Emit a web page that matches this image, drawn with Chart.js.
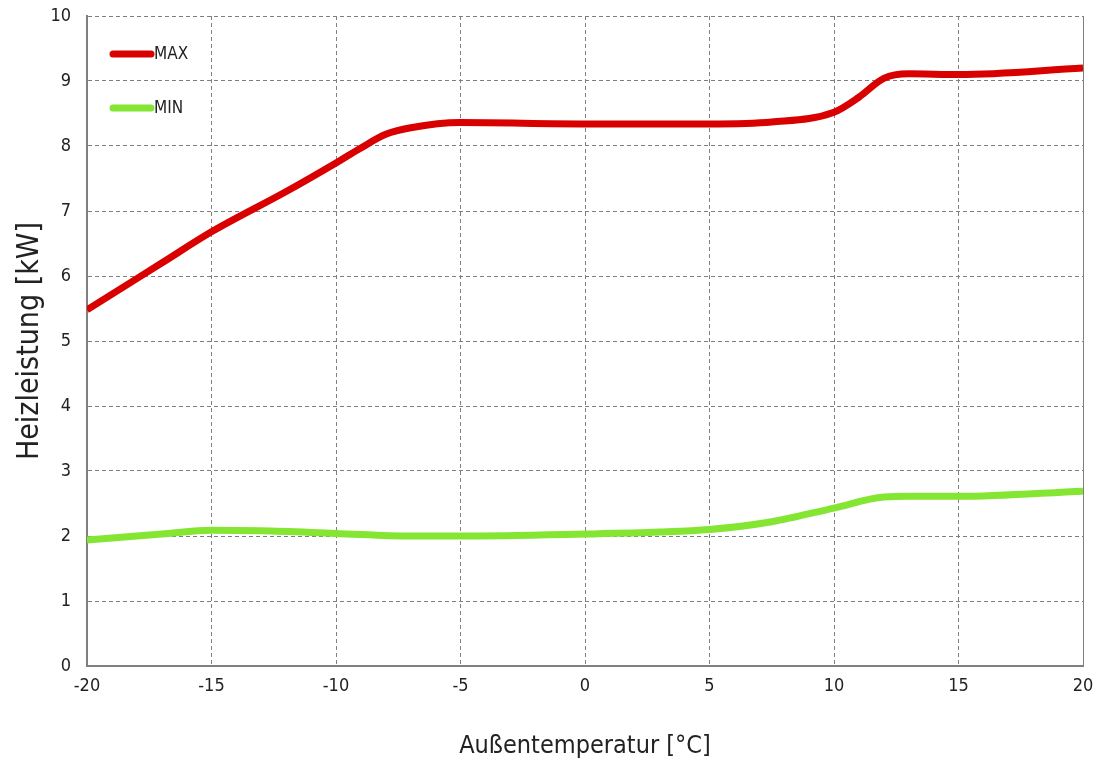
<!DOCTYPE html>
<html>
<head>
<meta charset="utf-8">
<script src="https://cdn.jsdelivr.net/npm/chart.js@4/dist/chart.umd.min.js"></script>
<style>
    html, body { margin: 0; padding: 0; background: #fff; }
    #wrap { width: 1096px; height: 769px; position: relative; }
</style>
</head>
<body>
<div id="wrap"><canvas id="chart"></canvas></div>
<script>
// Außentemperatur [°C] and Heizleistung [kW]
const tempMax = [-20, -17, -15, -12, -10, -9, -8, -7, -5, 0, 5, 7.5, 10, 11, 12, 13, 15, 20];
const powerMax = [5.48, 6.2, 6.68, 7.3, 7.74, 7.97, 8.18, 8.28, 8.36, 8.34, 8.34, 8.37, 8.52, 8.75, 9.04, 9.11, 9.1, 9.2];

const tempMin = [-20, -17, -15, -13, -10, -7, -5, 0, 3, 5, 7.5, 10, 12, 13, 15, 20];
const powerMin = [1.94, 2.03, 2.09, 2.08, 2.04, 2.0, 2.0, 2.03, 2.06, 2.1, 2.22, 2.43, 2.6, 2.61, 2.61, 2.69];

const xTicks = [-20, -15, -10, -5, 0, 5, 10, 15, 20];
const yTicks = [0, 1, 2, 3, 4, 5, 6, 7, 8, 9, 10];

const FONT = "'Liberation Sans Narrow', 'DejaVu Sans Condensed', sans-serif";
const GRID = '#7f7f7f';
const TEXT = '#222222';

function toPoints(xs, ys) {
    return xs.map((x, i) => ({ x: x, y: ys[i] }));
}

// drop the label overhang so layout padding alone sets the plot box
function noOverhang(axis) {
    axis.paddingTop = 0;
    axis.paddingBottom = 0;
    axis.paddingLeft = 0;
    axis.paddingRight = 0;
}

// Legend drawn inside the plot area, top left
const innerLegend = {
    id: 'innerLegend',
    afterDatasetsDraw(chart) {
        const { ctx, chartArea } = chart;
        const rows = [54, 108];
        ctx.save();
        chart.data.datasets.forEach((ds, i) => {
            const y = rows[i];
            const x0 = chartArea.left + 26;
            ctx.strokeStyle = ds.borderColor;
            ctx.lineWidth = 7;
            ctx.lineCap = 'round';
            ctx.beginPath();
            ctx.moveTo(x0, y);
            ctx.lineTo(x0 + 38, y);
            ctx.stroke();
            ctx.fillStyle = TEXT;
            ctx.font = '17px ' + FONT;
            ctx.textBaseline = 'middle';
            ctx.fillText(ds.label, x0 + 41, y + 1);
        });
        ctx.restore();
    }
};

const config = {
    type: 'line',
    data: {
        datasets: [
            {
                label: 'MAX',
                data: toPoints(tempMax, powerMax),
                borderColor: '#d90000',
                borderWidth: 7,
                cubicInterpolationMode: 'monotone',
                pointRadius: 0,
                fill: false,
            },
            {
                label: 'MIN',
                data: toPoints(tempMin, powerMin),
                borderColor: '#84e632',
                borderWidth: 7,
                cubicInterpolationMode: 'monotone',
                pointRadius: 0,
                fill: false,
            }
        ]
    },
    options: {
        responsive: true,
        maintainAspectRatio: false,
        animation: false,
        layout: { padding: { top: 16, right: 13, left: 0, bottom: 0 } },
        plugins: {
            legend: { display: false },
            tooltip: { enabled: false }
        },
        scales: {
            x: {
                type: 'linear',
                min: -20,
                max: 20,
                afterBuildTicks: axis => { axis.ticks = xTicks.map(v => ({ value: v })); },
                afterFit: axis => { axis.height = 103; noOverhang(axis); },
                ticks: { color: TEXT, font: { family: FONT, size: 18 }, padding: 10 },
                grid: { color: GRID, lineWidth: 1, drawTicks: false },
                border: {
                    color: GRID,
                    width: 2,
                    dash: c => (c.tick && c.tick.value === 20 ? [] : [4, 3])
                },
                title: {
                    display: true,
                    text: 'Außentemperatur [°C]',
                    color: TEXT,
                    font: { family: FONT, size: 25 },
                    padding: { top: 14, bottom: 8 }
                }
            },
            y: {
                min: 0,
                max: 10,
                afterBuildTicks: axis => { axis.ticks = yTicks.map(v => ({ value: v })); },
                afterFit: axis => { axis.width = 87; noOverhang(axis); },
                ticks: { color: TEXT, font: { family: FONT, size: 18 }, padding: 16 },
                grid: { color: GRID, lineWidth: 1, drawTicks: false },
                border: { color: GRID, width: 2, dash: [4, 3] },
                title: {
                    display: true,
                    text: 'Heizleistung [kW]',
                    color: TEXT,
                    font: { family: FONT, size: 30 },
                    padding: { top: 12, bottom: 6 }
                }
            }
        }
    },
    plugins: [innerLegend]
};

new Chart(document.getElementById('chart'), config);
</script>
</body>
</html>
